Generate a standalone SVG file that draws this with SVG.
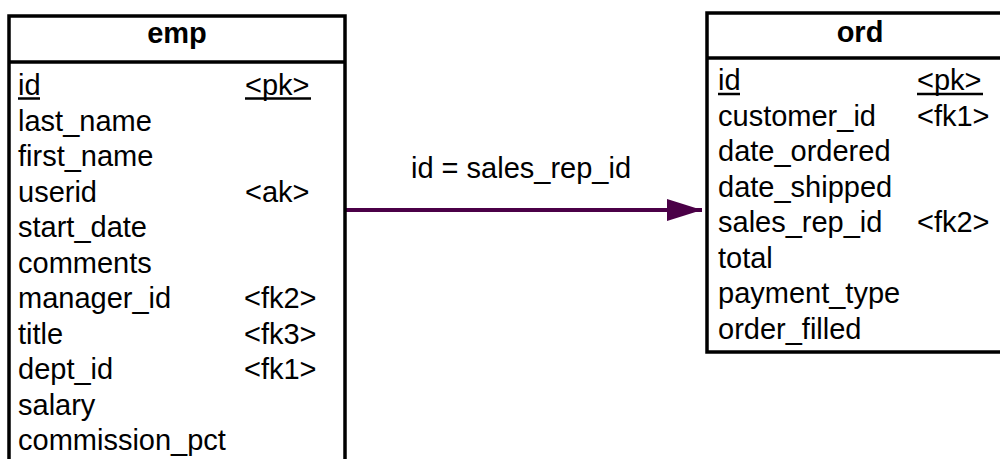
<svg xmlns="http://www.w3.org/2000/svg" width="1000" height="459" viewBox="0 0 1000 459">
<defs>
<style>
text{font-family:"Liberation Sans",Arial,sans-serif;font-size:29px;fill:#000}
.h{font-weight:bold;text-anchor:middle}
.box{fill:#fff;stroke:#000;stroke-width:3.5}
.sep{stroke:#000;stroke-width:3.5}
.ul{stroke:#000;stroke-width:2.5}
.conn{stroke:#4b0047;stroke-width:4;fill:none}
</style>
<marker id="arr" markerUnits="userSpaceOnUse" markerWidth="36" markerHeight="24" refX="35" refY="12" orient="auto">
<path d="M0,1 L35,12 L0,23 Z" fill="#4b0047"/>
</marker>
</defs>
<g id="connectors">
<line class="conn" x1="345" y1="210" x2="702" y2="210" marker-end="url(#arr)"/>
<text x="521" y="178" text-anchor="middle">id = sales_rep_id</text>
</g>
<g id="emp">
<rect class="box" x="9" y="16" width="336" height="460"/>
<line class="sep" x1="9" y1="62" x2="345" y2="62"/>
<text class="h" x="177" y="43">emp</text>
<text x="18" y="95">id</text><line class="ul" x1="18" y1="98.5" x2="40" y2="98.5"/>
<text x="245" y="95">&lt;pk&gt;</text><line class="ul" x1="245" y1="98.5" x2="311" y2="98.5"/>
<text x="18" y="130.5">last_name</text>
<text x="18" y="166">first_name</text>
<text x="18" y="201.5">userid</text><text x="245" y="201.5">&lt;ak&gt;</text>
<text x="18" y="237">start_date</text>
<text x="18" y="272.5">comments</text>
<text x="18" y="308">manager_id</text><text x="244" y="308">&lt;fk2&gt;</text>
<text x="18" y="343.5">title</text><text x="244" y="343.5">&lt;fk3&gt;</text>
<text x="18" y="379">dept_id</text><text x="244" y="379">&lt;fk1&gt;</text>
<text x="18" y="414.5">salary</text>
<text x="18" y="450">commission_pct</text>
</g>
<g id="ord">
<rect class="box" x="707" y="13" width="310" height="339"/>
<line class="sep" x1="707" y1="58" x2="1017" y2="58"/>
<text class="h" x="860" y="42">ord</text>
<text x="718" y="90">id</text><line class="ul" x1="718" y1="94" x2="740" y2="94"/>
<text x="917" y="90">&lt;pk&gt;</text><line class="ul" x1="917" y1="94" x2="983" y2="94"/>
<text x="718" y="125.5">customer_id</text><text x="917" y="125.5">&lt;fk1&gt;</text>
<text x="718" y="161">date_ordered</text>
<text x="718" y="196.5">date_shipped</text>
<text x="718" y="232">sales_rep_id</text><text x="917" y="232">&lt;fk2&gt;</text>
<text x="718" y="267.5">total</text>
<text x="718" y="303">payment_type</text>
<text x="718" y="338.5">order_filled</text>
</g>
</svg>
